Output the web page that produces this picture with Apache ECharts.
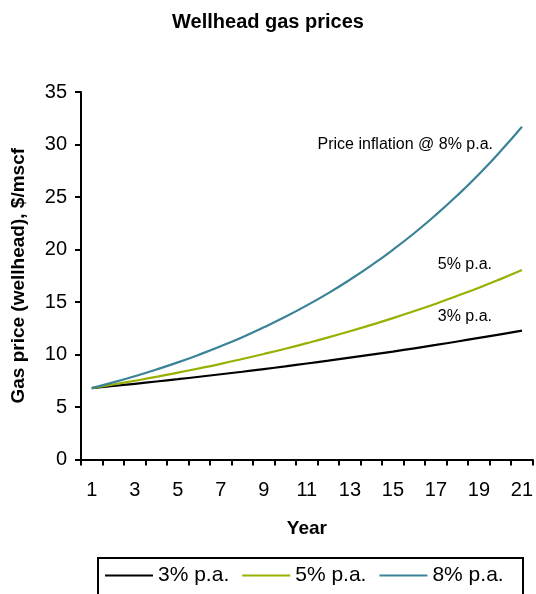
<!DOCTYPE html>
<html>
<head>
<meta charset="utf-8">
<title>Wellhead gas prices</title>
<script src="https://cdn.jsdelivr.net/npm/echarts@6/dist/echarts.min.js"></script>
<style>
  html, body { margin: 0; padding: 0; background: #fff; }
  #chart { width: 536px; height: 594px; }
</style>
</head>
<body>
<div id="chart"></div>
<script>
// Years of the projection
const years = ['1','2','3','4','5','6','7','8','9','10','11','12','13','14','15','16','17','18','19','20','21'];

// Wellhead gas price, $/mscf, under three inflation rates
const price3 = [6.80, 7.00, 7.21, 7.43, 7.65, 7.88, 8.12, 8.36, 8.61, 8.87, 9.14,
                9.41, 9.70, 9.99, 10.28, 10.59, 10.91, 11.24, 11.58, 11.92, 12.28];
const price5 = [6.80, 7.14, 7.50, 7.87, 8.27, 8.68, 9.11, 9.57, 10.05, 10.55, 11.08,
                11.63, 12.21, 12.82, 13.46, 14.14, 14.84, 15.59, 16.36, 17.18, 18.04];
const price8 = [6.80, 7.34, 7.93, 8.57, 9.25, 9.99, 10.79, 11.65, 12.59, 13.59, 14.68,
                15.85, 17.12, 18.49, 19.97, 21.57, 23.30, 25.16, 27.17, 29.35, 31.69];

const seriesNames = ['3% p.a.', '5% p.a.', '8% p.a.'];
const colors = ['#000000', '#99b000', '#3a8397'];

const font = 'Liberation Sans, Arial, sans-serif';

const chart = echarts.init(document.getElementById('chart'));

chart.setOption({
  animation: false,
  backgroundColor: '#ffffff',
  textStyle: { fontFamily: font },
  title: {
    text: 'Wellhead gas prices',
    left: 'center',
    top: 7,
    textStyle: { fontFamily: font, fontSize: 20, fontWeight: 'bold', color: '#000' }
  },
  grid: { left: 81, right: -1, top: 92, bottom: 134.5, containLabel: false },
  xAxis: {
    type: 'category',
    data: years,
    boundaryGap: true,
    name: 'Year',
    nameLocation: 'middle',
    nameGap: 60,
    nameTextStyle: { fontFamily: font, fontSize: 19, fontWeight: 'bold', color: '#000' },
    axisLine: { lineStyle: { color: '#000', width: 2 } },
    axisTick: { show: true, interval: 0, length: 6, lineStyle: { color: '#000', width: 2 } },
    axisLabel: { interval: 1, fontSize: 20, color: '#000', margin: 21, fontFamily: font },
    splitLine: { show: false }
  },
  yAxis: {
    type: 'value',
    min: 0,
    max: 35,
    interval: 5,
    name: 'Gas price (wellhead), $/mscf',
    nameLocation: 'middle',
    nameGap: 53,
    nameTextStyle: { fontFamily: font, fontSize: 19, fontWeight: 'bold', color: '#000' },
    axisLine: { show: true, lineStyle: { color: '#000', width: 2 } },
    axisTick: { show: true, length: 6, lineStyle: { color: '#000', width: 2 } },
    axisLabel: { fontSize: 20, color: '#000', margin: 14, fontFamily: font },
    splitLine: { show: false }
  },
  legend: {
    data: seriesNames,
    left: 105,
    top: 565,
    padding: 0,
    icon: 'rect',
    itemWidth: 48,
    itemHeight: 2,
    itemGap: 13,
    textStyle: { fontFamily: font, fontSize: 21, color: '#000' }
  },
  graphic: [
    {
      type: 'rect',
      shape: { x: 98, y: 558, width: 425, height: 60 },
      style: { fill: 'none', stroke: '#000', lineWidth: 2 },
      silent: true
    },
    {
      type: 'text',
      right: 536 - 493,
      top: 137,
      style: { text: 'Price inflation @ 8% p.a.', font: '16px ' + font, fill: '#000' }
    },
    {
      type: 'text',
      right: 536 - 492,
      top: 257,
      style: { text: '5% p.a.', font: '16px ' + font, fill: '#000' }
    },
    {
      type: 'text',
      right: 536 - 492,
      top: 309,
      style: { text: '3% p.a.', font: '16px ' + font, fill: '#000' }
    }
  ],
  series: [
    { name: seriesNames[0], type: 'line', data: price3, smooth: true, symbol: 'none',
      color: colors[0], lineStyle: { color: colors[0], width: 2.2 } },
    { name: seriesNames[1], type: 'line', data: price5, smooth: true, symbol: 'none',
      color: colors[1], lineStyle: { color: colors[1], width: 2.2 } },
    { name: seriesNames[2], type: 'line', data: price8, smooth: true, symbol: 'none',
      color: colors[2], lineStyle: { color: colors[2], width: 2.2 } }
  ]
});
</script>
</body>
</html>
